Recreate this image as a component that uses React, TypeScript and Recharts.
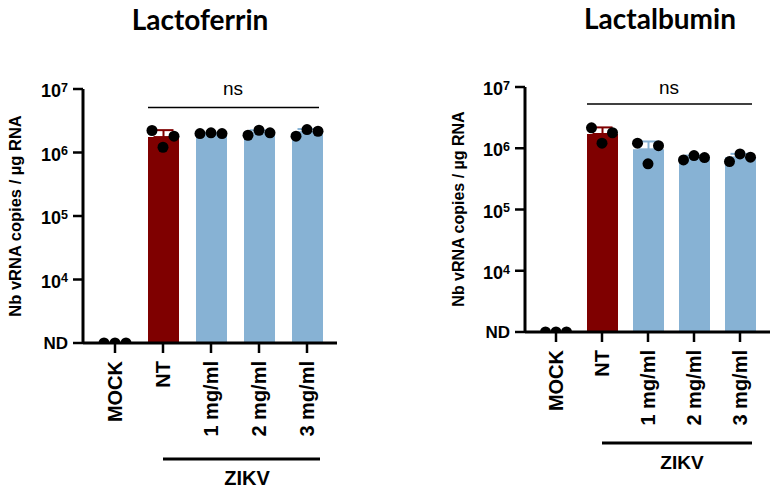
import { Bar, Cell, ComposedChart, ErrorBar, Scatter, XAxis, YAxis } from "recharts";

const CATEGORIES = ["MOCK", "NT", "1 mg/ml", "2 mg/ml", "3 mg/ml"];
const ND = 1e3; // "not detected" sits on the bottom of the axis
const Y_TICKS = [1e3, 1e4, 1e5, 1e6, 1e7];

// Lactoferrin panel
const LF_MEAN = [ND, 1.75e6, 2.0e6, 2.05e6, 2.09e6];
const LF_SD = [null, 0.5e6, 0.03e6, 0.19e6, 0.25e6];
const LF_DOT_A = [ND, 2.22e6, 1.99e6, 1.87e6, 1.81e6];
const LF_DOT_B = [ND, 1.21e6, 2.04e6, 2.24e6, 2.3e6];
const LF_DOT_C = [ND, 1.81e6, 1.99e6, 2.04e6, 2.16e6];

// Lactalbumin panel
const LA_MEAN = [ND, 1.71e6, 0.96e6, 0.7e6, 0.71e6];
const LA_SD = [null, 0.48e6, 0.33e6, 0.06e6, 0.1e6];
const LA_DOT_A = [ND, 2.16e6, 1.21e6, 0.645e6, 0.605e6];
const LA_DOT_B = [ND, 1.21e6, 0.556e6, 0.758e6, 0.807e6];
const LA_DOT_C = [ND, 1.79e6, 1.1e6, 0.703e6, 0.714e6];

const RED = "#7f0000";
const BLUE = "#87b2d4";
const FONT = "Arial, 'Liberation Sans', Helvetica, sans-serif";

function buildRows(mean: number[], sd: (number | null)[], a: number[], b: number[], c: number[]) {
  return CATEGORIES.map((name, i) => ({
    name,
    mean: mean[i],
    errRed: i === 1 && sd[i] != null ? [0, sd[i]] : null,
    errBlue: i > 1 && sd[i] != null ? [0, sd[i]] : null,
    a: a[i],
    b: b[i],
    c: c[i],
  }));
}

const LF_ROWS = buildRows(LF_MEAN, LF_SD, LF_DOT_A, LF_DOT_B, LF_DOT_C);
const LA_ROWS = buildRows(LA_MEAN, LA_SD, LA_DOT_A, LA_DOT_B, LA_DOT_C);

function YTick(props: any) {
  const { x, y, payload } = props;
  const v = payload.value;
  if (v === ND) {
    return (
      <text x={x} y={y} dy="0.36em" textAnchor="end" fontFamily={FONT} fontWeight="bold" fontSize={17} fill="#000">
        ND
      </text>
    );
  }
  const exp = Math.round(Math.log10(v));
  return (
    <text x={x} y={y} dy="0.45em" textAnchor="end" fontFamily={FONT} fontWeight="bold" fontSize={18} fill="#000">
      10
      <tspan dy="-0.42em" fontSize={12.5}>
        {exp}
      </tspan>
    </text>
  );
}

function XTick(props: any) {
  const { x, y, payload } = props;
  return (
    <text
      x={x}
      y={y}
      dy="0.36em"
      textAnchor="end"
      transform={`rotate(-90, ${x}, ${y})`}
      fontFamily={FONT}
      fontWeight="bold"
      fontSize={20}
      fill="#000"
    >
      {payload.value}
    </text>
  );
}

function dotShape(offset: number) {
  return (p: any) => <circle cx={p.cx + offset} cy={p.cy} r={5.5} fill="#000" />;
}

type PanelProps = {
  rows: any[];
  left: number;
  margin: { top: number; right: number; bottom: number; left: number };
  padding: { left: number; right: number };
  spread: number;
};

function Panel({ rows, left, margin, padding, spread }: PanelProps) {
  return (
    <div style={{ position: "absolute", left, top: 0 }}>
      <ComposedChart width={390} height={492} data={rows} margin={margin}>
        <XAxis
          dataKey="name"
          height={30}
          padding={padding}
          interval={0}
          tick={<XTick />}
          tickSize={10}
          tickMargin={8}
          axisLine={{ stroke: "#000", strokeWidth: 3 }}
          tickLine={{ stroke: "#000", strokeWidth: 2.5 }}
        />
        <YAxis
          type="number"
          scale="log"
          domain={[ND, 1e7]}
          ticks={Y_TICKS}
          allowDataOverflow
          width={83}
          tick={<YTick />}
          tickSize={10}
          tickMargin={5}
          axisLine={{ stroke: "#000", strokeWidth: 3 }}
          tickLine={{ stroke: "#000", strokeWidth: 2.5 }}
        />
        <Bar dataKey="mean" barSize={31} isAnimationActive={false}>
          {rows.map((r, i) => (
            <Cell key={r.name} fill={i === 1 ? RED : BLUE} />
          ))}
          <ErrorBar dataKey="errRed" width={10} stroke={RED} strokeWidth={2} />
          <ErrorBar dataKey="errBlue" width={10} stroke={BLUE} strokeWidth={2} />
        </Bar>
        <Scatter dataKey="a" isAnimationActive={false} shape={dotShape(-spread)} />
        <Scatter dataKey="b" isAnimationActive={false} shape={dotShape(0)} />
        <Scatter dataKey="c" isAnimationActive={false} shape={dotShape(spread)} />
      </ComposedChart>
    </div>
  );
}

export default function App() {
  return (
    <div style={{ position: "absolute", left: 0, top: 0, width: 780, height: 492, background: "#fff" }}>
      <Panel
        rows={LF_ROWS}
        left={0}
        margin={{ top: 89, right: 53, bottom: 119, left: 0 }}
        padding={{ left: 8, right: 6 }}
        spread={11}
      />
      <Panel
        rows={LA_ROWS}
        left={390}
        margin={{ top: 87, right: 10, bottom: 130, left: 52 }}
        padding={{ left: 8, right: 7 }}
        spread={10.5}
      />
      <svg
        width={780}
        height={492}
        style={{ position: "absolute", left: 0, top: 0, pointerEvents: "none" }}
      >
        <text x={200} y={30} textAnchor="middle" fontFamily="Lato, sans-serif" fontWeight="bold" fontSize={28}>
          Lactoferrin
        </text>
        <text x={660} y={29} textAnchor="middle" fontFamily="Lato, sans-serif" fontWeight="bold" fontSize={28}>
          Lactalbumin
        </text>

        <text
          x={15}
          y={216}
          dy="0.36em"
          textAnchor="middle"
          transform="rotate(-90, 15, 216)"
          fontFamily={FONT}
          fontWeight="bold"
          fontSize={16.5}
        >
          Nb vRNA copies / µg RNA
        </text>
        <text
          x={458}
          y={209}
          dy="0.36em"
          textAnchor="middle"
          transform="rotate(-90, 458, 209)"
          fontFamily={FONT}
          fontWeight="bold"
          fontSize={16}
        >
          Nb vRNA copies / µg RNA
        </text>

        <text x={233} y={95} textAnchor="middle" fontFamily={FONT} fontSize={19}>
          ns
        </text>
        <line x1={148} y1={107.5} x2={319} y2={107.5} stroke="#000" strokeWidth={1.5} />
        <text x={669} y={94} textAnchor="middle" fontFamily={FONT} fontSize={19}>
          ns
        </text>
        <line x1={587} y1={104} x2={752} y2={104} stroke="#000" strokeWidth={1.5} />

        <line x1={163} y1={459} x2={320} y2={459} stroke="#000" strokeWidth={3} />
        <text x={247} y={485} textAnchor="middle" fontFamily={FONT} fontWeight="bold" fontSize={20}>
          ZIKV
        </text>
        <line x1={602} y1={443} x2={752} y2={443} stroke="#000" strokeWidth={3} />
        <text x={682} y={469} textAnchor="middle" fontFamily={FONT} fontWeight="bold" fontSize={19}>
          ZIKV
        </text>
      </svg>
    </div>
  );
}
